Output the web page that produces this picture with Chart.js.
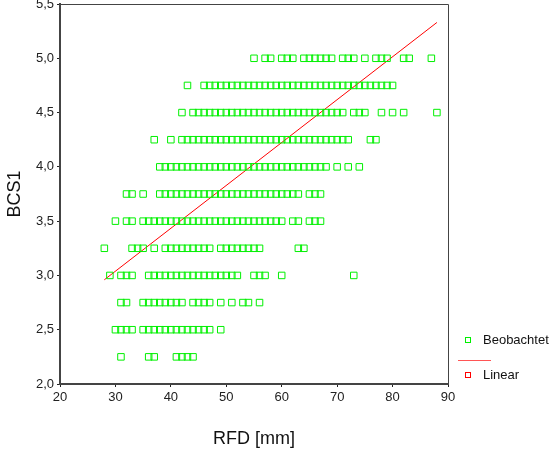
<!DOCTYPE html>
<html>
<head>
<meta charset="utf-8">
<script src="https://cdn.jsdelivr.net/npm/chart.js@4"></script>
<style>
  html, body { margin: 0; padding: 0; background: #fff; }
  #wrap { width: 551px; height: 451px; }
</style>
</head>
<body>
<div id="wrap"><canvas id="c" width="551" height="451"></canvas></div>
<script>
// BCS1 score levels and the RFD values (mm) observed at each level
const bcsLevels = [2.25, 2.5, 2.75, 3.0, 3.25, 3.5, 3.75, 4.0, 4.25, 4.5, 4.75, 5.0];
const rfd225 = [31, 36, 37, 41, 42, 43, 44];
const rfd250 = [30, 31, 32, 33, 35, 36, 37, 38, 39, 40, 41, 42, 43, 44, 45, 46, 47, 49];
const rfd275 = [31, 32, 35, 36, 37, 38, 39, 40, 41, 42, 44, 45, 46, 47, 49, 51, 53, 54, 56];
const rfd300 = [29, 31, 32, 33, 36, 37, 38, 39, 40, 41, 42, 43, 44, 45, 46, 47, 48, 49, 50, 51, 52, 55, 56, 57, 60, 73];
const rfd325 = [28, 33, 34, 35, 37, 39, 40, 41, 42, 43, 44, 45, 46, 47, 49, 50, 51, 52, 53, 54, 55, 56, 63, 64];
const rfd350 = [30, 32, 33, 35, 36, 37, 38, 39, 40, 41, 42, 43, 44, 45, 46, 47, 48, 49, 50, 51, 52, 53, 54, 55, 56, 57, 58, 59, 60, 62, 63, 65, 66, 67];
const rfd375 = [32, 33, 35, 38, 39, 40, 41, 42, 43, 44, 45, 46, 47, 48, 49, 50, 51, 52, 53, 54, 55, 56, 57, 58, 59, 60, 61, 62, 63, 65, 66, 67];
const rfd400 = [38, 39, 40, 41, 42, 43, 44, 45, 46, 47, 48, 49, 50, 51, 52, 53, 54, 55, 56, 57, 58, 59, 60, 61, 62, 63, 64, 65, 66, 67, 68, 70, 72, 74];
const rfd425 = [37, 40, 42, 43, 44, 45, 46, 47, 48, 49, 50, 51, 52, 53, 54, 55, 56, 57, 58, 59, 60, 61, 62, 63, 64, 65, 66, 67, 68, 69, 70, 71, 72, 76, 77];
const rfd450 = [42, 44, 45, 46, 47, 48, 49, 50, 51, 52, 53, 54, 55, 56, 57, 58, 59, 60, 61, 62, 63, 64, 65, 66, 67, 68, 69, 70, 71, 73, 74, 75, 78, 80, 82, 88];
const rfd475 = [43, 46, 47, 48, 49, 50, 51, 52, 53, 54, 55, 56, 57, 58, 59, 60, 61, 62, 63, 64, 65, 66, 67, 68, 69, 70, 71, 72, 73, 74, 75, 76, 77, 78, 79, 80];
const rfd500 = [55, 57, 58, 60, 61, 62, 64, 65, 66, 67, 68, 69, 71, 72, 73, 75, 77, 78, 79, 82, 83, 87];
const rfdByLevel = [rfd225, rfd250, rfd275, rfd300, rfd325, rfd350, rfd375, rfd400, rfd425, rfd450, rfd475, rfd500];

// linear fit line, from lowest to highest RFD
const fitX = [28, 88];
const fitY = [2.96, 5.33];

// axis ticks
const xTicks = [20, 30, 40, 50, 60, 70, 80, 90];
const yTicks = [2.0, 2.5, 3.0, 3.5, 4.0, 4.5, 5.0, 5.5];

const observed = [];
bcsLevels.forEach((lvl, i) => rfdByLevel[i].forEach(x => observed.push({ x: x, y: lvl })));
const fitted = fitX.map((x, i) => ({ x: x, y: fitY[i] }));

const FONT = 'Liberation Sans, Arial, sans-serif';
const GREEN = '#00f000';
const RED = '#ff0000';

// frame on top/right plus the legend box on the right
const framePlugin = {
  id: 'frameAndLegend',
  afterDraw(chart) {
    const { ctx, chartArea: a } = chart;
    ctx.save();
    ctx.strokeStyle = '#444';
    ctx.lineWidth = 1;
    ctx.beginPath();
    ctx.moveTo(a.left, a.top + 0.5);
    ctx.lineTo(a.right + 0.5, a.top + 0.5);
    ctx.lineTo(a.right + 0.5, a.bottom);
    ctx.stroke();

    // legend
    ctx.font = '13px ' + FONT;
    ctx.fillStyle = '#111';
    ctx.textBaseline = 'middle';
    ctx.textAlign = 'left';
    ctx.lineWidth = 1;
    ctx.strokeStyle = GREEN;
    ctx.strokeRect(465.5, 337.5, 5, 5);
    ctx.fillText(chart.data.datasets[0].label, 483, 340);
    ctx.strokeStyle = '#ff5555';
    ctx.beginPath();
    ctx.moveTo(458, 360.5);
    ctx.lineTo(491, 360.5);
    ctx.stroke();
    ctx.strokeStyle = RED;
    ctx.strokeRect(465.5, 372.5, 5, 5);
    ctx.fillText(chart.data.datasets[1].label, 483, 375);
    ctx.restore();
  }
};

new Chart(document.getElementById('c'), {
  type: 'scatter',
  data: {
    datasets: [
      {
        label: 'Beobachtet',
        data: observed,
        pointStyle: 'rect',
        pointRadius: 4.6,
        pointHoverRadius: 4.6,
        borderWidth: 1,
        borderColor: GREEN,
        backgroundColor: 'rgba(0,0,0,0)',
        showLine: false
      },
      {
        label: 'Linear',
        data: fitted,
        showLine: true,
        pointRadius: 0,
        borderColor: RED,
        borderWidth: 1,
        fill: false
      }
    ]
  },
  options: {
    responsive: false,
    animation: false,
    devicePixelRatio: 1,
    layout: { autoPadding: false, padding: { left: 0, right: 103, top: 4, bottom: 0 } },
    plugins: { legend: { display: false }, tooltip: { enabled: false } },
    scales: {
      x: {
        type: 'linear',
        min: 20, max: 90,
        afterBuildTicks: s => { s.ticks = xTicks.map(v => ({ value: v })); },
        afterFit: s => { s.height = 67; s.paddingLeft = 0; s.paddingRight = 0; },
        ticks: { font: { size: 13, family: FONT }, color: '#222', padding: 3, maxRotation: 0 },
        grid: { drawOnChartArea: false, drawTicks: true, tickLength: 3, color: '#222', lineWidth: 1 },
        border: { display: true, color: '#444', width: 2 },
        title: { display: true, text: 'RFD [mm]', font: { size: 18, family: FONT }, color: '#111', padding: { top: 0, bottom: 1 } }
      },
      y: {
        type: 'linear',
        min: 2, max: 5.5,
        afterBuildTicks: s => { s.ticks = yTicks.map(v => ({ value: v })); },
        afterFit: s => { s.width = 60; s.paddingTop = 0; s.paddingBottom = 0; },
        ticks: {
          font: { size: 13, family: FONT }, color: '#222', padding: 3,
          callback: v => v.toFixed(1).replace('.', ',')
        },
        grid: { drawOnChartArea: false, drawTicks: true, tickLength: 3, color: '#222', lineWidth: 1 },
        border: { display: true, color: '#444', width: 2 },
        title: { display: true, text: 'BCS1', font: { size: 18, family: FONT }, color: '#111', padding: { top: 4, bottom: 2 } }
      }
    }
  },
  plugins: [framePlugin]
});
</script>
</body>
</html>
